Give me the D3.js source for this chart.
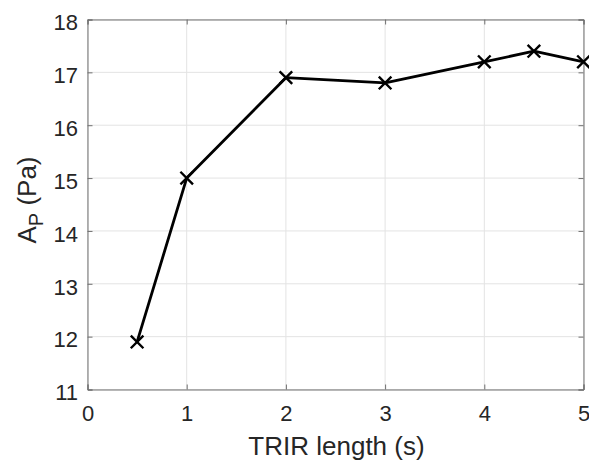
<!DOCTYPE html>
<html><head><meta charset="utf-8">
<script src="https://cdn.jsdelivr.net/npm/d3@7"></script>
<style>body{margin:0;background:#fff}</style>
</head><body>
<svg id="c" width="589" height="461"></svg>
<script>
const xValues = [0.5, 1, 2, 3, 4, 4.5, 5];
const yValues = [11.9, 15, 16.9, 16.8, 17.2, 17.4, 17.2];
const xTicks = [0, 1, 2, 3, 4, 5];
const yTicks = [11, 12, 13, 14, 15, 16, 17, 18];

const svg = d3.select("#c");
const L = 87.5, R = 583.5, T = 19.5, B = 389.5;
const x = d3.scaleLinear().domain([0, 5]).range([L, R]);
const y = d3.scaleLinear().domain([11, 18]).range([B, T]);
const font = "Arial, 'Liberation Sans', Helvetica, sans-serif";

// grid
const g = svg.append("g");
g.selectAll(".vg").data(xTicks).enter().append("line")
  .attr("x1", d => x(d)).attr("x2", d => x(d)).attr("y1", T).attr("y2", B)
  .attr("stroke", "#e3e3e3").attr("stroke-width", 1);
g.selectAll(".hg").data(yTicks).enter().append("line")
  .attr("y1", d => y(d)).attr("y2", d => y(d)).attr("x1", L).attr("x2", R)
  .attr("stroke", "#e3e3e3").attr("stroke-width", 1);

// axes
const tl = 5;
const axB = d3.axisBottom(x).tickValues(xTicks).tickSize(-tl).tickPadding(16).tickFormat(d3.format("d"));
const axT = d3.axisTop(x).tickValues(xTicks).tickSize(-tl).tickFormat("");
const axL = d3.axisLeft(y).tickValues(yTicks).tickSize(-tl).tickPadding(9.5).tickFormat(d3.format("d"));
const axR = d3.axisRight(y).tickValues(yTicks).tickSize(-tl).tickFormat("");
function style(sel){
  sel.selectAll("path").attr("stroke", "#707070").attr("stroke-width", 1);
  sel.selectAll("line").attr("stroke", "#707070");
  sel.selectAll("text").attr("fill", "#262626").style("font-family", font).style("font-size", "22px");
}
svg.append("g").attr("transform", `translate(0,${B})`).call(axB).call(style);
svg.append("g").attr("transform", `translate(0,${T})`).call(axT).call(style);
svg.append("g").attr("transform", `translate(${L},0)`).call(axL).call(style)
  .selectAll("text").attr("dy", "0.47em");
svg.append("g").attr("transform", `translate(${R},0)`).call(axR).call(style);

// line
const pts = xValues.map((v, i) => [v, yValues[i]]);
svg.append("path").datum(pts)
  .attr("d", d3.line().x(d => x(d[0])).y(d => y(d[1])))
  .attr("fill", "none").attr("stroke", "#000").attr("stroke-width", 2.8)
  .attr("stroke-linejoin", "round");
const m = 6.3;
svg.selectAll(".mk").data(pts).enter().append("path")
  .attr("d", d => { const cx = x(d[0]), cy = y(d[1]);
    return `M${cx-m},${cy-m}L${cx+m},${cy+m}M${cx-m},${cy+m}L${cx+m},${cy-m}`; })
  .attr("stroke", "#000").attr("stroke-width", 2.4).attr("fill", "none");

// labels
svg.append("text").attr("x", 336.5).attr("y", 455)
  .attr("text-anchor", "middle").attr("fill", "#262626")
  .style("font-family", font).style("font-size", "26px").text("TRIR length (s)");
const yl = svg.append("text").attr("transform", `translate(36,200) rotate(-90)`)
  .attr("text-anchor", "middle").attr("fill", "#262626")
  .style("font-family", font).style("font-size", "26px");
yl.append("tspan").text("A");
yl.append("tspan").attr("dy", 7).style("font-size", "20px").text("P");
yl.append("tspan").attr("dy", -7).text(" (Pa)");
</script>
</body></html>
